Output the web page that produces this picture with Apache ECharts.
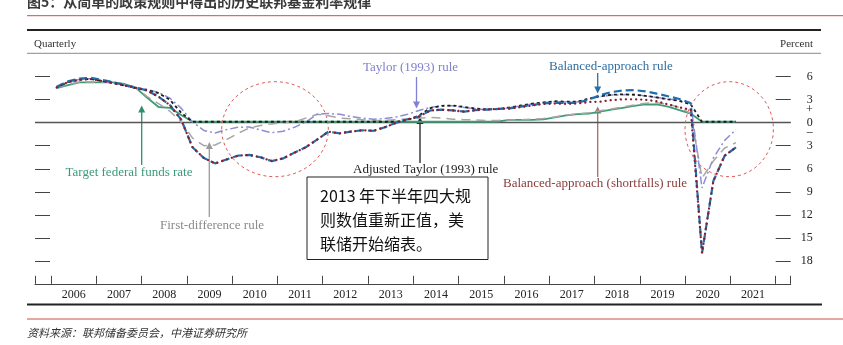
<!DOCTYPE html>
<html><head><meta charset="utf-8">
<script src="https://cdn.jsdelivr.net/npm/echarts@6/dist/echarts.min.js"></script>
<style>html,body{margin:0;padding:0;background:#fff}#c{width:843px;height:345px}</style>
</head><body><div id="c"></div>
<script>
// ---------- data ----------
const startYear = 2006;
const quarterCount = 61; // 2006Q1 .. 2021Q1
const quarters = [];
for (let i = 0; i < quarterCount; i++) quarters.push((startYear + Math.floor(i / 4)) + 'Q' + (i % 4 + 1));

const yearLabels = ['2006','2007','2008','2009','2010','2011','2012','2013','2014','2015','2016','2017','2018','2019','2020','2021'];
const yTickValues = [6, 3, 0, -3, -6, -9, -12, -15, -18];
const yTickLabels = ['6', '3', '0', '3', '6', '9', '12', '15', '18'];

const targetFFR = [
  4.5, 4.9, 5.25, 5.25,   5.25, 5.25, 5.05, 4.55,   3.25, 2.05, 1.95, 1.0,
  0.13, 0.13, 0.13, 0.13, 0.13, 0.13, 0.13, 0.13,   0.13, 0.13, 0.13, 0.13,
  0.13, 0.13, 0.13, 0.13, 0.13, 0.13, 0.13, 0.13,   0.13, 0.13, 0.13, 0.13,
  0.13, 0.13, 0.13, 0.16, 0.38, 0.38, 0.38, 0.45,   0.7, 0.95, 1.13, 1.2,
  1.45, 1.7, 1.95, 2.2,   2.38, 2.38, 2.1, 1.63,   1.2, 0.13, 0.13, 0.13,
  0.13
];
const taylor1993 = [
  4.6, 5.3, 5.65, 5.75,   5.5, 5.2, 4.9, 4.55,   4.35, 3.95, 3.2, 1.9,
  0.1, -1.0, -1.35, -0.9, -0.6, -0.55, -0.95, -1.3,  -1.1, -0.6, 0.1, 1.1,
  1.2, 1.1, 0.8, 0.6,     0.45, 0.55, 0.75, 1.1,    1.6, 2.0, 2.2, 2.2,
  2.0, 1.8, 1.7, 1.75,    1.95, 2.2, 2.45, 2.6,     2.75, 2.7, 2.7, 3.1,
  3.4, 3.6, 3.65, 3.7,    3.5, 3.3, 3.1, 2.9,       2.6, -8.5, -4.6, -2.3,
  -0.9
];
const adjustedTaylor = [
  4.6, 5.3, 5.6, 5.7,     5.45, 5.15, 4.85, 4.5,   4.25, 3.85, 3.0, 1.3,
  0.13, 0.13, 0.13, 0.13, 0.13, 0.13, 0.13, 0.13,   0.13, 0.13, 0.13, 0.13,
  0.13, 0.13, 0.13, 0.13, 0.13, 0.13, 0.13, 0.35,   0.95, 1.9, 2.2, 2.25,
  2.05, 1.85, 1.75, 1.8,  2.0, 2.25, 2.5, 2.65,     2.8, 2.75, 2.75, 3.15,
  3.45, 3.65, 3.7, 3.65,  3.5, 3.3, 3.05, 2.85,     2.4, 0.13, 0.13, 0.13,
  0.13
];
const balancedApproach = [
  4.7, 5.4, 5.75, 5.85,   5.6, 5.3, 4.9, 4.6,      4.2, 3.4, 2.3, 0.4,
  -3.2, -4.6, -5.3, -4.8, -4.3, -4.2, -4.5, -5.0,  -4.65, -3.9, -3.2, -2.2,
  -1.17, -1.38, -1.15, -0.98, -1.05, -0.58, 0.0, 0.45, 0.8, 1.6, 1.7, 1.6,
  1.45, 1.65, 1.72, 1.8,  1.88, 2.1, 2.3, 2.53,    2.6, 2.57, 2.6, 3.0,
  3.6, 4.0, 4.2, 4.25,    4.1, 3.8, 3.45, 3.1,     2.55, -17.0, -7.6, -4.3,
  -3.2
];
const balancedShortfalls = [
  4.6, 5.3, 5.6, 5.7,     5.45, 5.2, 4.85, 4.55,   4.2, 3.4, 2.3, 0.4,
  -3.2, -4.6, -5.3, -4.8, -4.3, -4.2, -4.5, -5.0,  -4.65, -3.9, -3.2, -2.2,
  -1.17, -1.38, -1.15, -0.98, -1.05, -0.58, 0.0, 0.45, 0.8, 1.6, 1.7, 1.6,
  1.45, 1.65, 1.72, 1.8,  1.85, 2.05, 2.25, 2.45,  2.5, 2.45, 2.5, 2.7,
  2.75, 2.95, 3.05, 3.05, 3.0, 2.8, 2.4, 2.0,      1.7, -17.0, -7.6, -4.3,
  -3.2
];
const firstDifference = [
  4.55, 5.0, 5.3, 5.3,    5.3, 5.25, 5.0, 4.6,     3.4, 2.5, 1.5, 0.1,
  -2.0, -3.0, -2.9, -2.2, -1.4, -0.7, -0.35, -0.15, 0.0, 0.1, 0.6, 1.1,
  0.9, 0.6, 0.5, 0.4,     0.3, 0.3, 0.4, 0.5,      0.6, 0.7, 0.6, 0.45,
  0.4, 0.35, 0.3, 0.3,    0.35, 0.4, 0.45, 0.55,   0.75, 1.0, 1.15, 1.3,
  1.55, 1.8, 2.05, 2.3,   2.55, 2.6, 2.4, 2.0,     1.2, -7.2, -5.0, -3.3,
  -2.6
];

// ---------- helpers ----------
function quarterToYear(label) {
  const y = +label.slice(0, 4), q = +label.slice(5);
  return y + (q - 0.5) / 4;
}
function pairs(arr) { return quarters.map((q, i) => [quarterToYear(q), arr[i]]); }

const SERIF = '"Liberation Serif", "DejaVu Serif", serif';
const CJK = '"Noto Sans CJK SC", sans-serif';

const chart = echarts.init(document.getElementById('c'), null, { renderer: 'canvas' });

function arrow(x, yFrom, yTip, color) {
  const dir = yTip < yFrom ? 1 : -1; // 1: pointing up
  return {
    type: 'group', z: 50, children: [
      { type: 'line', shape: { x1: x, y1: yFrom, x2: x, y2: yTip + dir * 4 }, style: { stroke: color, lineWidth: 1.3 } },
      { type: 'polygon', shape: { points: [[x, yTip], [x - 3.5, yTip + dir * 7], [x + 3.5, yTip + dir * 7]] }, style: { fill: color } }
    ]
  };
}
function label(text, x, y, color, size, font, extra) {
  return { type: 'text', z: 50, style: Object.assign({ text: text, x: x, y: y, fill: color, font: (size || 13) + 'px ' + (font || SERIF), textAlign: 'left', textVerticalAlign: 'middle' }, extra || {}) };
}
function hline(x1, x2, y, color, w) {
  return { type: 'line', z: 40, shape: { x1: x1, y1: y, x2: x2, y2: y }, style: { stroke: color, lineWidth: w } };
}

const xMin = 2005.647, xMax = 2022.333;
const xTickVals = [xMin];
for (let y = 2006; y <= 2022; y++) xTickVals.push(y);
xTickVals.push(xMax);

const option = {
  animation: false,
  backgroundColor: '#fff',
  grid: { left: 35, right: 52.3, top: 53.7, bottom: 61.2, containLabel: false },
  xAxis: {
    type: 'value', min: xMin, max: xMax,
    axisLine: { show: true, onZero: false, lineStyle: { color: '#444', width: 1 } },
    axisTick: { show: true, inside: true, length: 8, customValues: xTickVals, lineStyle: { color: '#444', width: 1 } },
    axisLabel: {
      show: true, customValues: yearLabels.map(y => +y + 0.5), margin: 5,
      formatter: v => String(Math.floor(v)),
      color: '#222', fontFamily: SERIF, fontSize: 12
    },
    splitLine: { show: false }
  },
  yAxis: [
    {
      type: 'value', min: -21, max: 9, interval: 3, position: 'left',
      axisLine: { show: false },
      axisTick: { show: true, inside: true, length: 15, customValues: yTickValues, lineStyle: { color: '#444', width: 1 } },
      axisLabel: { show: false },
      splitLine: { show: false }
    },
    {
      type: 'value', min: -21, max: 9, interval: 3, position: 'right',
      axisLine: { show: false },
      axisTick: { show: true, inside: true, length: 15, customValues: yTickValues, lineStyle: { color: '#444', width: 1 } },
      axisLabel: {
        show: true, inside: false, margin: 22, align: 'right',
        customValues: yTickValues.concat([1.66, -1.2]),
        formatter: function (v) {
          if (Math.abs(v - 1.66) < 1e-6) return '+';
          if (Math.abs(v + 1.2) < 1e-6) return '–';
          const idx = yTickValues.indexOf(Math.round(v));
          return idx >= 0 ? yTickLabels[idx] : '';
        },
        color: '#222', fontFamily: SERIF, fontSize: 12
      },
      splitLine: { show: false }
    }
  ],
  series: [
    {
      name: 'Target federal funds rate', type: 'line', data: pairs(targetFFR), showSymbol: false, symbol: 'none',
      lineStyle: { color: '#3f9b74', width: 1.8 }, z: 2,
      markLine: {
        silent: true, symbol: 'none', label: { show: false },
        lineStyle: { color: '#555', width: 1.3, type: 'solid' },
        data: [{ yAxis: 0 }], z: 1
      }
    },
    { name: 'First-difference rule', type: 'line', data: pairs(firstDifference), symbol: 'none',
      lineStyle: { color: '#a6a6a6', width: 1.5, type: [9, 6] }, z: 3 },
    { name: 'Taylor (1993) rule', type: 'line', data: pairs(taylor1993), symbol: 'none',
      lineStyle: { color: '#8c8cd8', width: 1.5, type: [8, 3, 2, 3] }, z: 4 },
    { name: 'Adjusted Taylor (1993) rule', type: 'line', data: pairs(adjustedTaylor), symbol: 'none',
      lineStyle: { color: '#1c1c1c', width: 1.8, type: [3, 3] }, z: 5 },
    { name: 'Balanced-approach rule', type: 'line', data: pairs(balancedApproach), symbol: 'none',
      lineStyle: { color: '#1f6fae', width: 2.2, type: [8, 4] }, z: 6 },
    { name: 'Balanced-approach (shortfalls) rule', type: 'line', data: pairs(balancedShortfalls), symbol: 'none',
      lineStyle: { color: '#8b1d2c', width: 2.3, type: [0.1, 5], cap: 'round' }, z: 7 }
  ],
  graphic: [
    // header / footer rules
    { type: 'text', z: 60, style: { text: '图5：从简单的政策规则中得出的历史联邦基金利率规律', x: 27, y: 1.5, fill: '#3a3a3a', font: 'bold 14px ' + CJK, textAlign: 'left', textVerticalAlign: 'middle' } },
    hline(27, 843, 15.7, '#c9503f', 1),
    hline(27, 821, 30, '#222', 2),
    label('Quarterly', 34, 44, '#333', 11),
    label('Percent', 813, 44, '#333', 11, SERIF, { textAlign: 'right' }),
    hline(27, 821, 53.3, '#8a8a8a', 1),
    hline(27, 822, 304.5, '#222', 2),
    hline(27, 843, 319, '#c9503f', 1),
    label('资料来源：联邦储备委员会，中港证券研究所', 27, 333, '#333', 11, CJK, { font: 'italic 11px ' + CJK }),

    // red dashed circles
    { type: 'ellipse', z: 45, shape: { cx: 275, cy: 129.2, rx: 53.3, ry: 47.5 }, style: { fill: 'none', stroke: '#e05a5a', lineWidth: 1, lineDash: [3, 3] } },
    { type: 'ellipse', z: 45, shape: { cx: 729.2, cy: 129.2, rx: 44.2, ry: 47.5 }, style: { fill: 'none', stroke: '#e05a5a', lineWidth: 1, lineDash: [3, 3] } },

    // annotations
    label('Taylor (1993) rule', 363, 67.5, '#7f7fcf', 13),
    arrow(416.5, 77, 108.5, '#8282d2'),
    label('Balanced-approach rule', 549, 67, '#2d6fa3', 13),
    arrow(597.7, 73, 93.5, '#2d6fa3'),
    label('Adjusted Taylor (1993) rule', 353, 170, '#1e1e1e', 13),
    arrow(420, 163, 117, '#1e1e1e'),
    label('Balanced-approach (shortfalls) rule', 503, 183.5, '#8a3c3c', 13),
    arrow(597.7, 177, 106.5, '#a86a6a'),
    label('Target federal funds rate', 65.5, 172.5, '#3b9a7a', 13),
    arrow(141.7, 165, 105.5, '#2f8f6c'),
    label('First-difference rule', 160, 226, '#8a8a8a', 13),
    arrow(209.3, 217, 142, '#9a9a9a'),

    // text box
    { type: 'rect', z: 55, shape: { x: 307, y: 177, width: 181, height: 82.5 }, style: { fill: '#fff', stroke: '#222', lineWidth: 1 } },
    label('2013 年下半年四大规', 320, 195.5, '#111', 16, CJK),
    label('则数值重新正值，美', 320, 219.5, '#111', 16, CJK),
    label('联储开始缩表。', 320, 243.5, '#111', 16, CJK)
  ]
};
option.graphic.slice(-3).forEach(g => { g.z = 56; });
chart.setOption(option);
</script>
</body></html>
